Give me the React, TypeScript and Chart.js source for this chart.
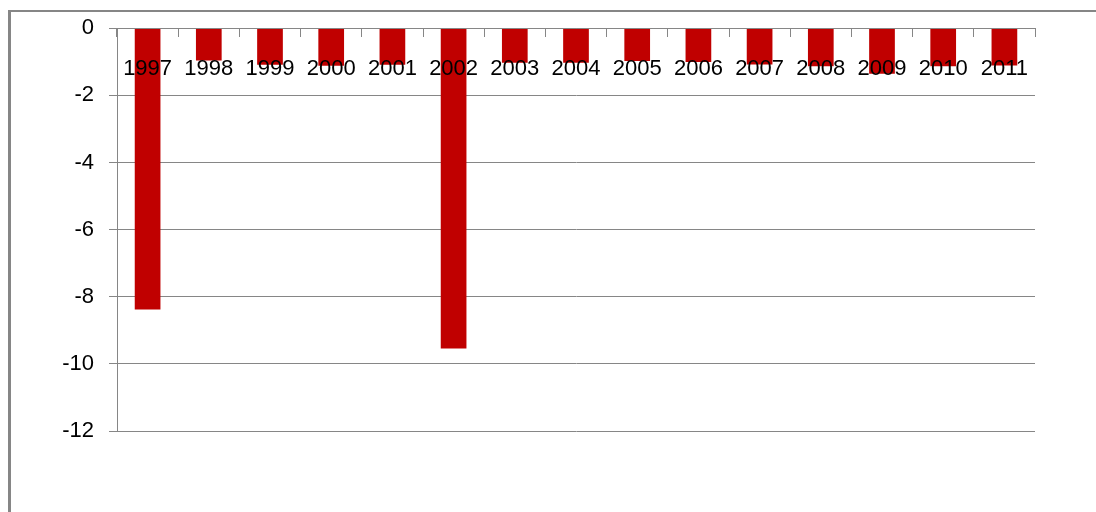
import React, { useEffect, useRef } from "react";
import { Chart, registerables } from "chart.js";

Chart.register(...registerables);

const years: string[] = [
  "1997", "1998", "1999", "2000", "2001", "2002", "2003", "2004",
  "2005", "2006", "2007", "2008", "2009", "2010", "2011",
];
const values: number[] = [
  -8.38, -0.96, -1.09, -1.12, -1.09, -9.54, -1.03, -1.03,
  -0.98, -1.01, -1.08, -1.13, -1.36, -1.13, -1.11,
];
const yMin = -12;
const yMax = 0;
const yStep = 2;

const GRAY = "#868686";
const FONT = { family: "'Liberation Sans', Arial, sans-serif", size: 22 };

const frame = {
  id: "frame",
  beforeDraw(chart: any) {
    const ctx = chart.ctx;
    ctx.save();
    ctx.fillStyle = "#ffffff";
    ctx.fillRect(0, 0, chart.width, chart.height);
    ctx.fillStyle = GRAY;
    ctx.fillRect(8, 10, chart.width - 8, 2);
    ctx.fillRect(8, 10, 3, chart.height - 10);
    ctx.restore();
  },
};

export default function App() {
  const ref = useRef<HTMLCanvasElement | null>(null);
  useEffect(() => {
    if (!ref.current) return;
    const chart = new Chart(ref.current, {
      type: "bar",
      data: {
        labels: years,
        datasets: [
          {
            data: values,
            backgroundColor: "#C00000",
            barPercentage: 0.42,
            categoryPercentage: 1.0,
          },
        ],
      },
      options: {
        animation: false,
        responsive: false,
        layout: { padding: { left: 0, top: 28, right: 61, bottom: 81 } },
        plugins: { legend: { display: false }, tooltip: { enabled: false } },
        scales: {
          x: {
            type: "category",
            position: { y: 0 } as any,
            grid: {
              drawOnChartArea: false,
              drawTicks: true,
              tickLength: 8,
              color: GRAY,
              offset: true,
              z: 1,
            },
            border: { color: GRAY, width: 1, z: 1 },
            ticks: {
              font: FONT,
              color: "#000000",
              padding: 20,
              maxRotation: 0,
              autoSkip: false,
              z: 2,
            },
          },
          y: {
            min: yMin,
            max: yMax,
            grid: { color: GRAY, tickLength: 8, lineWidth: 1 },
            border: { color: GRAY, width: 1 },
            ticks: {
              stepSize: yStep,
              font: FONT,
              color: "#000000",
              padding: 15,
            },
            afterFit(scale: any) {
              scale.width = 117;
            },
          },
        },
      },
      plugins: [frame],
    });
    return () => chart.destroy();
  }, []);
  return (
    <div style={{ position: "fixed", left: 0, top: 0, width: 1096, height: 512 }}>
      <canvas ref={ref} width={1096} height={512} style={{ display: "block" }} />
    </div>
  );
}
